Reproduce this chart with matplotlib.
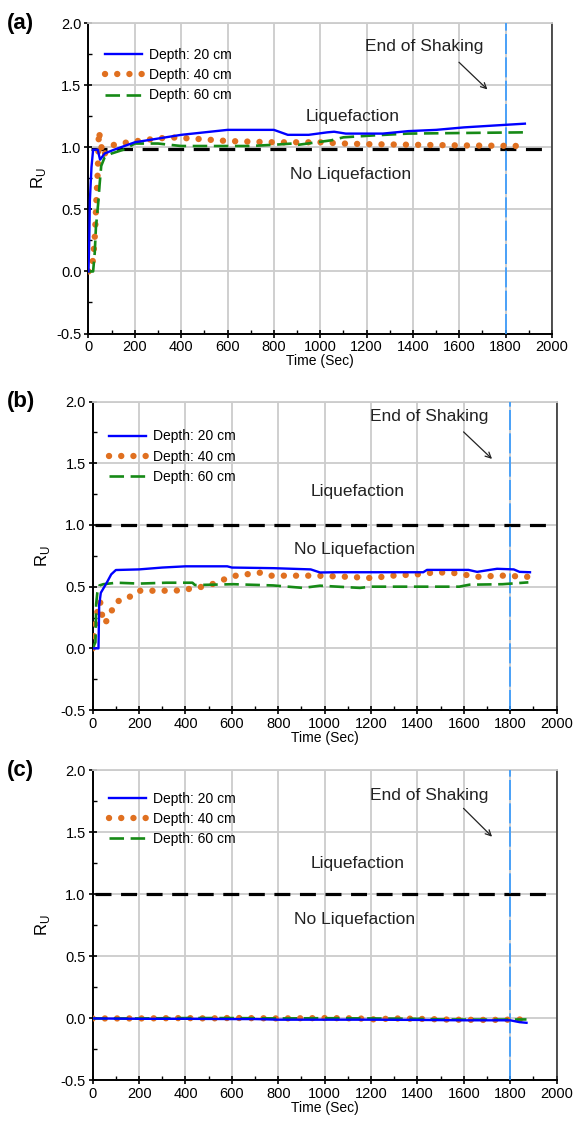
import matplotlib
matplotlib.use("Agg")
import matplotlib.pyplot as plt
from matplotlib.ticker import MultipleLocator

plt.rcParams['font.family'] = ['Liberation Sans', 'DejaVu Sans']
plt.rcParams['mathtext.fontset'] = 'custom'
plt.rcParams['mathtext.rm'] = 'Liberation Sans'

# ---- panel (a) ----
t20_a = [0, 3, 6, 13, 20, 40, 50, 70, 110, 200, 300, 400, 500, 600, 800, 860, 950, 1030, 1060, 1110,
         1270, 1380, 1500, 1620, 1750, 1883]
ru20_a = [0.0, 0.22, 0.57, 0.84, 0.98, 0.98, 0.90, 0.95, 0.98, 1.04, 1.07, 1.10, 1.12, 1.14, 1.14, 1.10,
          1.10, 1.12, 1.125, 1.11, 1.11, 1.13, 1.14, 1.16, 1.175, 1.19]
t40_a = [0, 15, 22, 28, 34, 40, 45, 52, 62, 80, 110, 170, 250, 350, 450, 600, 800, 900, 1000, 1100,
         1200, 1400, 1600, 1883]
ru40_a = [0.0, 0.02, 0.15, 0.30, 0.57, 0.80, 1.13, 1.05, 0.93, 0.97, 1.02, 1.04, 1.06, 1.08, 1.07, 1.05,
          1.04, 1.04, 1.04, 1.03, 1.025, 1.02, 1.015, 1.01]
t60_a = [0, 20, 27, 32, 42, 48, 55, 70, 100, 150, 200, 300, 400, 500, 700, 800, 880, 906, 1048, 1100,
         1236, 1378, 1620, 1880]
ru60_a = [0.0, 0.0, 0.15, 0.35, 0.55, 0.70, 0.85, 0.92, 0.95, 0.98, 1.03, 1.03, 1.01, 1.01, 1.01, 1.02,
          1.03, 1.02, 1.056, 1.08, 1.096, 1.11, 1.115, 1.12]

# ---- panel (b) ----
t20_b = [0, 25, 28, 35, 60, 80, 100, 200, 300, 400, 580, 600, 780, 940, 980, 1050, 1425, 1441, 1620,
         1657, 1743, 1815, 1840, 1885]
ru20_b = [0.0, 0.0, 0.35, 0.45, 0.53, 0.60, 0.635, 0.64, 0.655, 0.665, 0.665, 0.655, 0.65, 0.64, 0.615,
          0.617, 0.617, 0.636, 0.636, 0.62, 0.645, 0.64, 0.62, 0.617]
t40_b = [0, 10, 24, 32, 39, 53, 75, 103, 146, 197, 300, 390, 434, 477, 527, 577, 628, 678, 721, 771,
         965, 1100, 1200, 1300, 1400, 1482, 1560, 1659, 1760, 1877]
ru40_b = [0.0, 0.18, 0.34, 0.38, 0.28, 0.20, 0.28, 0.38, 0.40, 0.467, 0.467, 0.47, 0.49, 0.50, 0.527,
          0.567, 0.595, 0.603, 0.613, 0.589, 0.589, 0.58, 0.57, 0.59, 0.60, 0.617, 0.61, 0.58, 0.59, 0.58]
t60_b = [0, 12, 15, 20, 29, 46, 103, 200, 319, 430, 441, 606, 778, 907, 980, 1152, 1200, 1400, 1580,
         1624, 1767, 1878]
ru60_b = [0.0, 0.05, 0.36, 0.45, 0.51, 0.52, 0.532, 0.525, 0.532, 0.532, 0.513, 0.52, 0.51, 0.49, 0.508,
          0.49, 0.50, 0.50, 0.50, 0.516, 0.52, 0.535]

# ---- panel (c) ----
t20_c = [0, 200, 400, 600, 700, 800, 1000, 1200, 1400, 1600, 1800, 1840, 1870]
ru20_c = [0.0, -0.003, -0.003, -0.005, -0.005, -0.01, -0.01, -0.01, -0.012, -0.015, -0.015, -0.03, -0.035]
t40_c = [0, 200, 400, 500, 600, 800, 1000, 1150, 1200, 1300, 1400, 1550, 1700, 1800, 1860]
ru40_c = [0.0, 0.0, 0.003, 0.0, 0.004, 0.0, 0.003, 0.0, -0.008, 0.0, -0.003, -0.01, -0.012, -0.01, -0.008]
t60_c = [0, 200, 400, 600, 800, 1000, 1200, 1400, 1500, 1700, 1870]
ru60_c = [0.0, 0.0, 0.003, 0.003, 0.0, 0.002, 0.0, -0.003, -0.008, -0.01, -0.008]

labels = ["Depth: 20 cm", "Depth: 40 cm", "Depth: 60 cm"]
letters = ["(a)", "(b)", "(c)"]
series = [
    [(t20_a, ru20_a), (t40_a, ru40_a), (t60_a, ru60_a)],
    [(t20_b, ru20_b), (t40_b, ru40_b), (t60_b, ru60_b)],
    [(t20_c, ru20_c), (t40_c, ru40_c), (t60_c, ru60_c)],
]
liq_line = [0.985, 1.0, 1.0]
end_shaking = 1800

# axes boxes in figure fractions
boxes = [
    [0.1515, 0.7051, 0.7937, 0.2745],
    [0.1587, 0.3722, 0.7945, 0.2727],
    [0.1587, 0.0447, 0.7945, 0.2741],
]
legend_top = [0.92, 0.91, 0.932]
text_y = [(1.81, 1.25, 0.78), (1.88, 1.27, 0.80), (1.80, 1.25, 0.80)]
arrow_y = [(1.70, 1.45), (1.77, 1.52), (1.71, 1.45)]

fig = plt.figure(figsize=(5.84, 11.31), dpi=100)

for i in range(3):
    ax = fig.add_axes(boxes[i])
    (x1, y1), (x2, y2), (x3, y3) = series[i]

    ax.plot(x1, y1, color='#0000ff', lw=1.7, label=labels[0], zorder=5)
    ax.plot(x2, y2, color='#e07020', lw=4.6, linestyle=(0, (0.01, 1.9)),
            dash_capstyle='round', label=labels[1], zorder=4)
    ax.plot(x3, y3, color='#168a16', lw=1.9, dashes=(5.5, 2.5), label=labels[2], zorder=4)

    ax.plot([10, 1985], [liq_line[i], liq_line[i]], color='black', lw=2.3, dashes=(5, 3), zorder=3)
    ax.axvline(end_shaking, color='#3399ff', lw=1.2, dashes=(12, 2), zorder=3)

    ax.set_xlim(0, 2000)
    ax.set_ylim(-0.5, 2.0)
    ax.xaxis.set_major_locator(MultipleLocator(200))
    ax.xaxis.set_minor_locator(MultipleLocator(100))
    ax.yaxis.set_major_locator(MultipleLocator(0.5))
    ax.yaxis.set_minor_locator(MultipleLocator(0.25))
    ax.yaxis.set_major_formatter(plt.FormatStrFormatter('%.1f'))
    ax.grid(True, which='major', color='#cccccc', lw=1.3)
    ax.set_axisbelow(True)
    ax.tick_params(which='major', direction='inout', length=6, width=1.2, labelsize=10.5, pad=2)
    ax.tick_params(which='minor', direction='in', length=3, width=1)

    ax.spines['left'].set_linewidth(1.4)
    ax.spines['bottom'].set_linewidth(1.4)
    ax.spines['right'].set_color('#333333')
    ax.spines['right'].set_linewidth(1.2)
    ax.spines['top'].set_color('#cccccc')
    ax.spines['top'].set_linewidth(1.3)

    ax.set_xlabel("Time (Sec)", fontsize=10, labelpad=0)
    ax.set_ylabel(r'R$_\mathrm{U}$', fontsize=12, labelpad=6)

    ty_end, ty_liq, ty_no = text_y[i]
    ax.text(1450, ty_end, "End of Shaking", fontsize=12.5, ha='center', va='center', color='#222222')
    ax.text(1140, ty_liq, "Liquefaction", fontsize=12.5, ha='center', va='center', color='#222222')
    ax.text(1130, ty_no, "No Liquefaction", fontsize=12.5, ha='center', va='center', color='#222222')
    ay0, ay1 = arrow_y[i]
    ax.annotate("", xy=(1730, ay1), xytext=(1590, ay0),
                arrowprops=dict(arrowstyle='->', color='#222222', lw=0.9))

    ax.legend(loc='upper left', bbox_to_anchor=(0.035, legend_top[i]), frameon=False, fontsize=10,
              handlelength=2.7, handletextpad=0.5, labelspacing=0.45, borderaxespad=0, borderpad=0)

    fig.text(0.012, boxes[i][1] + boxes[i][3], letters[i], fontsize=16, fontweight='bold',
             ha='left', va='center')

fig.savefig("out.png", dpi=100)
